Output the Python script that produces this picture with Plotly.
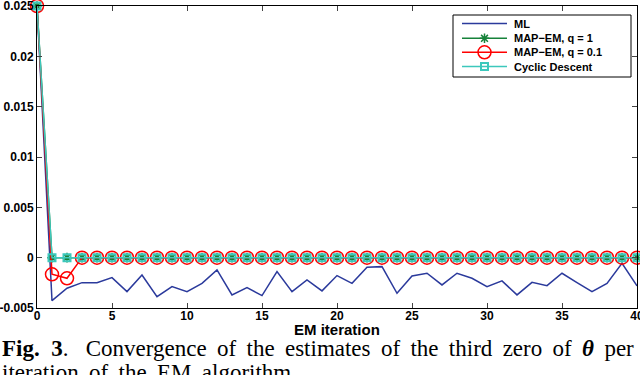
import plotly.graph_objects as go

iterations = list(range(0, 41))
ml = [0.025, -0.00427, -0.00304, -0.00248, -0.00248, -0.00198, -0.00337, -0.00172, -0.00387, -0.00288,
      -0.00337, -0.00255, -0.00122, -0.00370, -0.00298, -0.00377, -0.00139, -0.00337, -0.00221, -0.00330,
      -0.00178, -0.00255, -0.00096, -0.00089, -0.00354, -0.00182, -0.00155, -0.00271, -0.00155, -0.00205,
      -0.00288, -0.00231, -0.00370, -0.00245, -0.00278, -0.00155, -0.00248, -0.00337, -0.00255, -0.00056,
      -0.00281]
map_q1 = [0.025] + [0.0] * 40
map_q01 = [0.025, -0.00165, -0.00205] + [0.0] * 38
cyclic = [0.025] + [0.0] * 40

series_names = ["ML", "MAP\u2212EM, q = 1", "MAP\u2212EM, q = 0.1", "Cyclic Descent"]
ytick_vals = [0.025, 0.02, 0.015, 0.01, 0.005, 0, -0.005]
ytick_text = ["0.025", "0.02", "0.015", "0.01", "0.005", "0", "-0.005"]
xtick_vals = [0, 5, 10, 15, 20, 25, 30, 35, 40]

# style
W, H = 640, 375
L, R, T, B = 37, 3, 6, 67
PW, PH = W - L - R, H - T - B
colors = ["#2b3a9c", "#16823a", "#ff0000", "#3cc8bc"]
markers = [None,
           dict(symbol="asterisk-open", size=8, color=colors[1], line=dict(color=colors[1], width=1.5)),
           dict(symbol="circle-open", size=13, color=colors[2], line=dict(color=colors[2], width=1.5)),
           dict(symbol="square-open", size=7, color=colors[3], line=dict(color=colors[3], width=2))]

def px(xp):
    return (xp - L) / PW

def py(yp):
    return (T + PH - yp) / PH

fig = go.Figure()
for name, ys, col, mk in zip(series_names, [ml, map_q1, map_q01, cyclic], colors, markers):
    fig.add_trace(go.Scatter(x=iterations, y=ys, mode="lines" if mk is None else "lines+markers",
                             name=name, cliponaxis=False, showlegend=False,
                             line=dict(color=col, width=1.5), marker=mk))

# legend (drawn manually to match the compact MATLAB legend)
box_l, box_r, box_t, box_b = 453, 631, 15, 77
row_y = [23.5, 38.3, 52.3, 66.5]
samp_l, samp_r, text_x = 462, 507, 512
fig.add_shape(type="rect", xref="paper", yref="paper", x0=px(box_l), x1=px(box_r), y0=py(box_b), y1=py(box_t),
              line=dict(color="black", width=1), fillcolor="white", layer="below")
for name, col, mk, ry in zip(series_names, colors, markers, row_y):
    fig.add_shape(type="line", xref="paper", yref="paper", x0=px(samp_l), x1=px(samp_r), y0=py(ry), y1=py(ry),
                  line=dict(color=col, width=1.5), layer="below")
    if mk is not None:
        fig.add_trace(go.Scatter(x=[px((samp_l + samp_r) / 2)], y=[py(ry)], xaxis="x2", yaxis="y2",
                                 mode="markers", marker=mk, showlegend=False, hoverinfo="skip", cliponaxis=False))
    fig.add_annotation(xref="paper", yref="paper", x=px(text_x), y=py(ry), xanchor="left", yanchor="middle",
                       showarrow=False, text="<b>%s</b>" % name,
                       font=dict(family="Liberation Sans, Arial", size=11, color="black"))

tick_font = dict(family="Liberation Sans, Arial", size=12, color="black", weight="bold")
fig.update_layout(
    width=W, height=H,
    margin=dict(l=L, r=R, t=T, b=B, autoexpand=False),
    paper_bgcolor="white", plot_bgcolor="white",
    showlegend=False,
    xaxis=dict(range=[0, 40], tickvals=xtick_vals, ticks="inside", ticklen=5, automargin=False,
               ticklabelstandoff=-3, ticklabeloverflow="allow",
               showline=True, linecolor="black", linewidth=1, mirror="ticks",
               showgrid=False, zeroline=False, tickfont=tick_font),
    yaxis=dict(range=[-0.005, 0.025], tickvals=ytick_vals, ticktext=ytick_text, ticks="inside", ticklen=5,
               automargin=False, ticklabeloverflow="allow",
               showline=True, linecolor="black", linewidth=1, mirror="ticks",
               showgrid=False, zeroline=False, tickfont=tick_font),
    xaxis2=dict(overlaying="x", range=[0, 1], visible=False, fixedrange=True),
    yaxis2=dict(overlaying="y", range=[0, 1], visible=False, fixedrange=True),
)

# x-axis title
fig.add_annotation(xref="paper", yref="paper", x=0.5, y=py(319), xanchor="center", yanchor="top",
                   showarrow=False, text="<b>EM iteration</b>",
                   font=dict(family="Liberation Sans, Arial", size=15, color="black"))

# caption
sp = " \u2009"
line1 = ("<b>Fig. \u20053</b>." + " \u2002" + sp.join(["Convergence", "of", "the", "estimates", "of", "the",
                                                       "third", "zero", "of", "<b><i>θ</i></b>", "per"]))
line2 = sp.join(["iteration", "of", "the", "EM", "algorithm."])
fig.add_annotation(xref="paper", yref="paper", x=px(0), y=py(334), xanchor="left", yanchor="top",
                   showarrow=False, align="left", text=line1,
                   font=dict(family="Liberation Serif, Times New Roman", size=23, color="black"))
fig.add_annotation(xref="paper", yref="paper", x=px(0), y=py(358), xanchor="left", yanchor="top",
                   showarrow=False, align="left", text=line2,
                   font=dict(family="Liberation Serif, Times New Roman", size=23, color="black"))

fig.write_html("out.html", config={"displayModeBar": False},
               post_script="document.body.style.margin='0';document.body.style.overflow='hidden';")
